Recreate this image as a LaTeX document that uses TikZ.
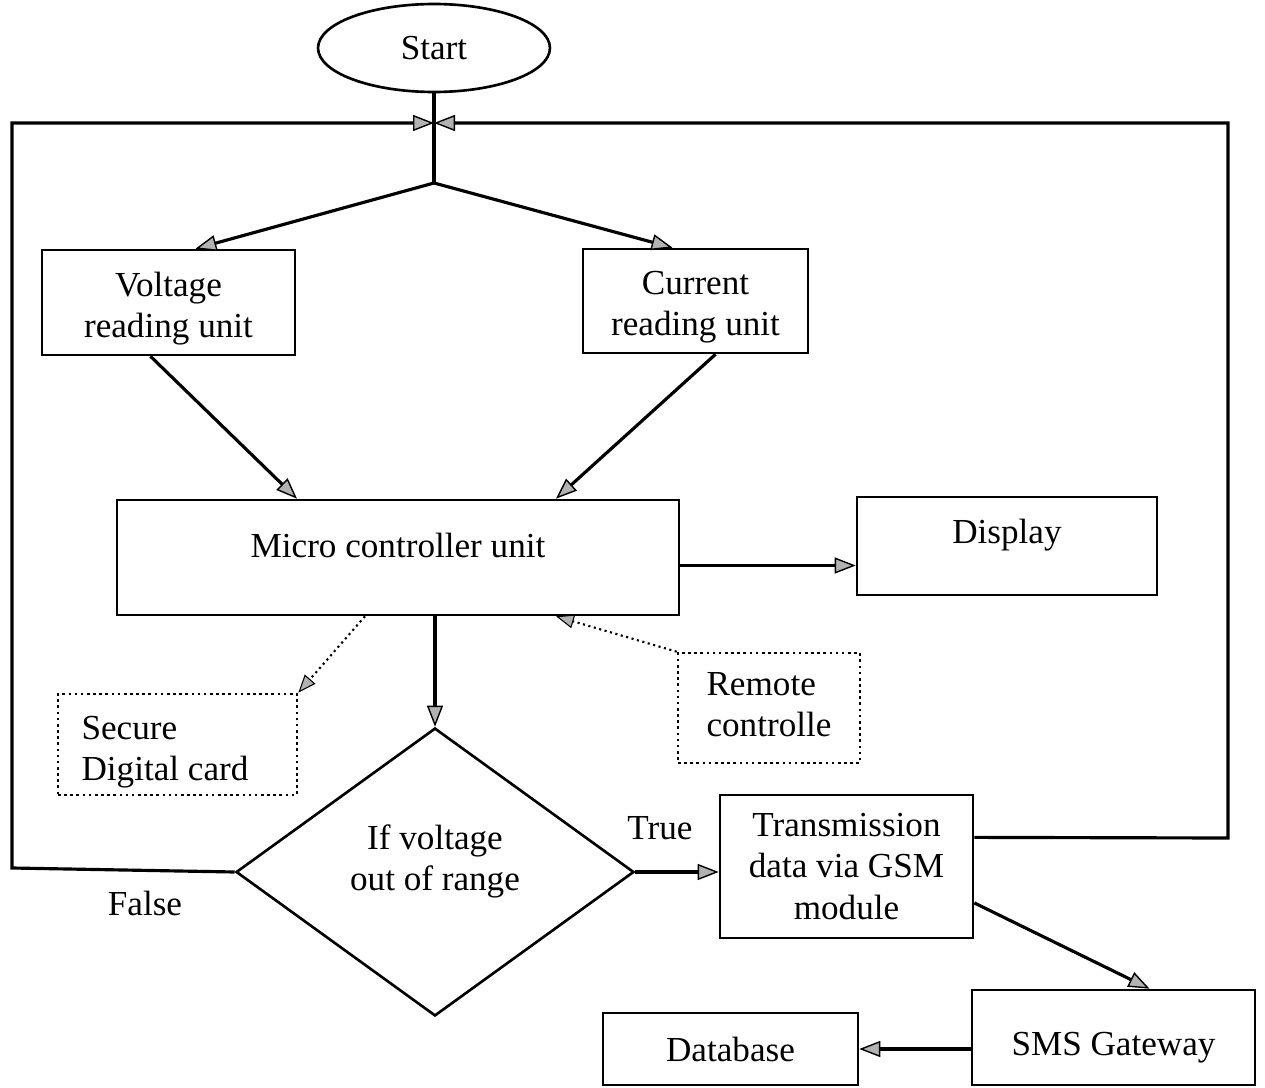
\documentclass[tikz,border=0pt]{standalone}
\usepackage{fontspec}
\setmainfont{Liberation Serif}
\usetikzlibrary{arrows.meta,shapes.geometric,calc}
\newcommand\shtext[3]{\raisebox{#1}[0pt][0pt]{\begin{tabular}{@{}#2@{}}#3\end{tabular}}}
\begin{document}
\begin{tikzpicture}[x=0.02cm,y=-0.02cm,
  every node/.style={font=\fontsize{20}{23.5}\selectfont},
  box/.style={draw,line width=1.5pt,rectangle,align=center,inner sep=2pt},
  dbox/.style={draw,dotted,line width=1.5pt,rectangle,align=left,inner sep=2pt},
  ln/.style={line width=1.8pt},
  arr/.style={ln,-{Triangle[length=0.42cm,width=0.32cm,fill=gray!60,line width=0.8pt]}},
  darr/.style={dotted,line width=1.2pt,-{Triangle[length=0.36cm,width=0.28cm,fill=gray!60,line width=0.6pt]}}]
\useasboundingbox (0,0) rectangle (1265,1088);

\node[draw,ellipse,line width=1.5pt,minimum width=4.64cm,minimum height=1.76cm,inner sep=0pt] (start) at (434,48) {Start};
\coordinate (join) at (434,123);
\coordinate (split) at (434,183);
\coordinate (lc) at (12,868);
\coordinate (rcorner) at (1228,838);

\node[box,minimum width=5.06cm,minimum height=2.1cm] (vol) at (168.5,302.5) {\shtext{-0.30cm}{c}{Voltage\\reading unit}};
\node[box,minimum width=4.5cm,minimum height=2.08cm] (cur) at (695.5,301) {\shtext{-0.30cm}{c}{Current\\reading unit}};
\node[box,minimum width=11.24cm,minimum height=2.3cm] (mcu) at (398,557.5) {\shtext{-0.01cm}{c}{Micro controller unit}};
\node[box,minimum width=6cm,minimum height=1.96cm] (disp) at (1007,546) {\shtext{0.03cm}{c}{Display}};
\node[dbox,minimum width=4.78cm,minimum height=2.02cm] (sd) at (177.5,744.5) {\shtext{-0.32cm}{l}{Secure\\Digital card}\hspace{0.5cm}};
\node[dbox,minimum width=3.64cm,minimum height=2.2cm] (rc) at (769,708) {\shtext{-0.18cm}{l}{Remote\\controlle}};
\node[draw,diamond,line width=1.5pt,minimum width=7.96cm,minimum height=5.76cm,inner sep=0pt,align=center] (dia) at (435,872) {\shtext{0.02cm}{c}{If voltage\\out of range}};
\node[box,minimum width=5.06cm,minimum height=2.86cm] (tx) at (846.5,866.5) {Transmission\\data via GSM\\module};
\node[box,minimum width=5.66cm,minimum height=1.9cm] (sms) at (1113.5,1037.5) {\shtext{-0.38cm}{c}{SMS Gateway}};
\node[box,minimum width=5.1cm,minimum height=1.44cm] (db) at (730.5,1049) {Database};

\node (true) at (660,828) {True};
\node (false) at (145,903) {False};

% main trunk
\draw[ln] (start.south) -- (split);
\draw[arr] (split) -- ($(vol.north)+(27,0)$);
\draw[arr] (split) -- ($(cur.north)+(-23,0)$);
\draw[arr] ($(vol.south)+(-18,0)$) -- ($(mcu.north)+(-101,0)$);
\draw[arr] ($(cur.south)+(20,0)$) -- ($(mcu.north)+(158,0)$);
\path ($(mcu.east)+(0,8)$) coordinate (m1);
\draw[arr] (m1) -- (m1 -| disp.west);
\draw[arr] (mcu.south -| dia.north) -- (dia.north);
\draw[darr] ($(mcu.south)+(-33,0)$) -- (sd.north east);
\draw[darr] (rc.north west) -- ($(mcu.south)+(158,0)$);
\draw[arr] (dia.east) -- (dia.east -| tx.west);
\draw[arr] ($(tx.north east)!0.75!(tx.south east)$) -- ($(sms.north)+(36,0)$);
\draw[arr] (db.east -| sms.west) -- (db.east);

% loops
\draw[arr] (dia.west) -- (lc) |- (join);
\draw[arr] ($(tx.north east)!0.3!(tx.south east)$) -- (rcorner) |- (join);
\end{tikzpicture}
\end{document}
